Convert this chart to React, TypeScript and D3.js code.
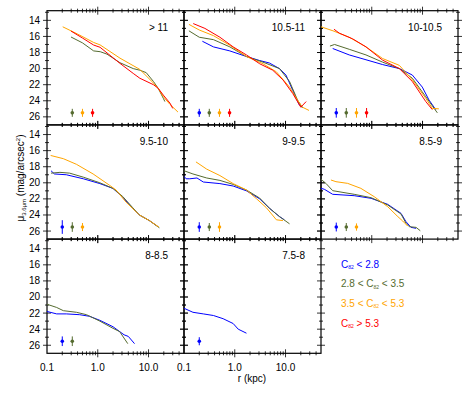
import React, { useEffect, useRef } from 'react';
import * as d3 from 'd3';

type Pt = [number, number];

// mass bins, one panel each
const binLabels = ['> 11', '10.5-11', '10-10.5', '9.5-10', '9-9.5', '8.5-9', '8-8.5', '7.5-8'];
// concentration classes: blue, green, orange, red
const classColors = ['#0000ff', '#556b2f', '#ffa500', '#ff0000'];
const legendLeft = ['C', '2.8 < C', '3.5 < C', 'C'];
const legendRight = [' < 2.8', ' < 3.5', ' < 5.3', ' > 5.3'];
const errorBarR = [0.2, 0.315, 0.5, 0.79];
const errorBarMu = 25.5;
const xTickLabels = ['0.1', '1.0', '10.0'];
const yTickValues = [14, 16, 18, 20, 22, 24, 26];

// profiles: [r (kpc), mu (mag/arcsec^2)], null = no galaxies in that class
const gt11Profiles: (Pt[] | null)[] = [
  null,
  [[0.297, 16.07], [0.5, 16.8], [0.83, 17.8], [1.12, 17.9], [1.52, 18.2], [2.74, 19.27], [5.0, 20.0], [6.75, 20.2], [9, 20.5], [12.5, 21.6], [15.5, 22.45], [19.6, 23.7], [21, 24.1]],
  [[0.204, 14.8], [0.4, 15.7], [0.83, 16.75], [1.11, 17.05], [2.74, 18.7], [6.75, 20.1], [12.5, 21.8], [15.5, 22.45], [19.6, 23.5], [26, 24.4], [38, 25.4]],
  [[0.297, 15.33], [0.5, 16.2], [0.83, 17.07], [1.11, 17.35], [2.74, 19.35], [5.0, 20.6], [6.75, 21.2], [12.5, 22.0], [15.5, 22.45], [19.6, 23.3], [26.5, 24.3], [30, 24.95]],
];
const gt11Errors = [0, 0.5, 0.5, 0.5];

const m105Profiles: (Pt[] | null)[] = [
  [[0.23, 16.6], [0.38, 17.3], [0.8, 17.8], [1.7, 18.5], [3.1, 19.0], [4.8, 19.3], [7.6, 20.0], [10.2, 20.8], [13.9, 22.7], [18.6, 24.5], [21.6, 24.8]],
  [[0.125, 15.3], [0.2, 16.1], [0.38, 16.4], [0.8, 17.3], [1.7, 18.5], [3.6, 19.2], [7.6, 20.0], [12, 21.6], [17.2, 23.9], [21.6, 24.9]],
  [[0.125, 14.5], [0.2, 15.2], [0.38, 15.9], [0.8, 17.1], [1.7, 18.5], [3.6, 19.4], [6.6, 20.4], [12, 22.3], [17.2, 23.9], [21.6, 24.8], [29, 25.2]],
  [[0.152, 14.4], [0.258, 15.0], [0.51, 16.1], [0.93, 17.3], [1.7, 18.3], [3.1, 19.4], [5.6, 20.2], [8.9, 21.4], [13.9, 23.1], [20, 24.8], [25.5, 24.1]],
];
const m105Errors = [0.5, 0.5, 0.5, 0.5];

const m100Profiles: (Pt[] | null)[] = [
  [[0.17, 17.5], [0.36, 18.3], [0.77, 18.9], [1.64, 19.5], [3.5, 20.0], [6.3, 20.8], [9.9, 22.3], [13.4, 23.9], [18.2, 25.1]],
  [[0.15, 17.2], [0.185, 17.0], [0.36, 17.6], [0.77, 18.3], [1.64, 19.2], [3.5, 20.0], [6.3, 21.2], [11.6, 23.5], [19.6, 25.5]],
  [[0.1, 14.8], [0.172, 15.3], [0.36, 16.1], [0.77, 17.3], [1.64, 18.75], [3.5, 19.6], [6.3, 21.4], [11.6, 23.7], [15.6, 24.95], [21, 25.0]],
  [[0.18, 15.1], [0.23, 15.6], [0.42, 16.3], [0.77, 17.3], [1.64, 18.95], [3.5, 20.0], [6.3, 21.6], [11.6, 24.1], [15.6, 25.1]],
];
const m100Errors = [0.6, 0.6, 0.6, 0.6];

const m95Profiles: (Pt[] | null)[] = [
  [[0.12, 18.5], [0.14, 18.9], [0.24, 19.0], [0.52, 19.5], [1.1, 20.1], [2.0, 20.7], [3.1, 21.8], [4.9, 23.2], [6.6, 24.0], [10.4, 24.7], [15, 25.4]],
  [[0.12, 18.8], [0.18, 18.7], [0.28, 18.8], [0.52, 19.3], [1.1, 20.0], [2.0, 20.7], [3.1, 21.7], [4.9, 23.1], [6.6, 24.0], [10.4, 24.7], [16.4, 25.6]],
  [[0.118, 16.6], [0.21, 17.0], [0.38, 17.7], [0.81, 18.9], [1.7, 20.3], [2.3, 20.9], [3.6, 22.4], [6.6, 24.0], [10.4, 24.7], [16, 25.5]],
  null,
];
const m95Errors = [0.85, 0.6, 0.5, 0];

const m90Profiles: (Pt[] | null)[] = [
  [[0.1, 19.2], [0.11, 19.5], [0.13, 19.5], [0.18, 19.4], [0.24, 19.9], [0.51, 20.1], [0.93, 20.4], [1.7, 21.0], [3.1, 22.0], [4.9, 23.2], [7.6, 24.2], [9.5, 24.6]],
  [[0.1, 18.5], [0.15, 18.9], [0.28, 19.4], [0.51, 19.7], [0.93, 20.2], [1.7, 20.9], [3.1, 21.9], [4.9, 23.2], [7.6, 24.2], [12, 25.1]],
  [[0.172, 17.4], [0.28, 18.3], [0.51, 19.1], [0.93, 20.1], [1.7, 20.9], [2.7, 22.0], [4.2, 23.1], [6.6, 24.6], [8.9, 24.7]],
  null,
];
const m90Errors = [0.6, 0.5, 0.6, 0];

const m85Profiles: (Pt[] | null)[] = [
  [[0.1, 20.69], [0.116, 20.8], [0.17, 21.43], [0.45, 21.6], [0.97, 21.93], [2.06, 22.68], [3.77, 23.8], [4.73, 24.84], [5.93, 25.54], [7.44, 25.66]],
  [[0.1, 19.57], [0.125, 20.07], [0.17, 20.98], [0.45, 21.43], [0.97, 21.85], [2.06, 22.76], [3.77, 23.88], [4.73, 25.04], [5.5, 25.46], [7.44, 25.54], [9.04, 25.96]],
  [[0.157, 19.65], [0.197, 19.86], [0.335, 20.07], [0.61, 20.69], [1.12, 21.73], [2.06, 22.97], [3.26, 24.2], [4.07, 24.75], [5.1, 25.38]],
  null,
];
const m85Errors = [0.55, 0.5, 0.45, 0];

const m80Profiles: (Pt[] | null)[] = [
  [[0.1, 21.8], [0.155, 22.1], [0.24, 22.1], [0.44, 22.2], [0.69, 22.4], [1.1, 22.9], [2.0, 23.7], [3.3, 24.7], [4.0, 24.9], [5.3, 25.8]],
  [[0.1, 20.9], [0.155, 21.3], [0.21, 21.7], [0.38, 21.9], [0.6, 22.2], [1.1, 23.0], [2.0, 23.9], [2.7, 24.3], [3.9, 25.8]],
  null,
  null,
];
const m80Errors = [0.6, 0.6, 0, 0];

const m75Profiles: (Pt[] | null)[] = [
  [[0.1, 21.4], [0.15, 21.9], [0.24, 22.1], [0.38, 22.3], [0.59, 22.7], [0.93, 23.3], [1.17, 24.0], [1.7, 24.5]],
  null,
  null,
  null,
];
const m75Errors = [0.5, 0, 0, 0];

const panelProfiles = [gt11Profiles, m105Profiles, m100Profiles, m95Profiles, m90Profiles, m85Profiles, m80Profiles, m75Profiles];
const panelErrors = [gt11Errors, m105Errors, m100Errors, m95Errors, m90Errors, m85Errors, m80Errors, m75Errors];

const W = 472;
const H = 393;
const left0 = 47;
const top0 = 10.7;
const panelW = 137;
const panelH = 114.2;
const font = '"Liberation Sans", Arial, sans-serif';

const drawChart = (el: SVGSVGElement) => {
  const svg = d3.select(el);
  svg.selectAll('*').remove();

  const x = d3.scaleLog().domain([0.1, 50]).range([0, panelW]);
  const y = d3.scaleLinear().domain([12.8, 27]).range([0, panelH]);
  const line = d3.line<Pt>().x((d) => x(d[0])).y((d) => y(d[1]));

  const xMajor = [0.1, 1, 10];
  const xMinor: number[] = [];
  [0.1, 1, 10].forEach((dec) => d3.range(2, 10).forEach((k) => { if (k * dec < 50) xMinor.push(k * dec); }));
  const yMinor = d3.range(13, 27, 1).filter((v) => v % 2 === 1);

  svg.append('defs').append('clipPath').attr('id', 'pclip')
    .append('rect').attr('width', panelW).attr('height', panelH);

  binLabels.forEach((label, i) => {
    const col = i % 3;
    const row = Math.floor(i / 3);
    const g = svg.append('g')
      .attr('transform', `translate(${ left0 + col * panelW }, ${ top0 + row * panelH })`);

    g.append('rect')
      .attr('width', panelW).attr('height', panelH)
      .attr('fill', 'none').attr('stroke', '#000').attr('stroke-width', 1.2);

    const ticks = g.append('g').attr('stroke', '#000').attr('stroke-width', 0.8);
    const tick = (vals: number[], len: number) => {
      vals.forEach((v) => {
        const px = x(v);
        ticks.append('line').attr('x1', px).attr('x2', px).attr('y1', -len).attr('y2', len);
        ticks.append('line').attr('x1', px).attr('x2', px).attr('y1', panelH - len).attr('y2', panelH + len);
      });
    };
    tick(xMajor.slice(1), 4);
    tick(xMinor, 2);
    const ytick = (vals: number[], len: number) => {
      vals.forEach((v) => {
        const py = y(v);
        ticks.append('line').attr('y1', py).attr('y2', py).attr('x1', -len).attr('x2', len);
        ticks.append('line').attr('y1', py).attr('y2', py).attr('x1', panelW - len).attr('x2', panelW + len);
      });
    };
    ytick(yTickValues, 4);
    ytick(yMinor, 2);

    const curves = g.append('g').attr('clip-path', 'url(#pclip)');
    panelProfiles[i].forEach((pts, c) => {
      if (!pts) return;
      curves.append('path')
        .attr('d', line(pts))
        .attr('fill', 'none')
        .attr('stroke', classColors[c])
        .attr('stroke-width', 1);
    });

    panelErrors[i].forEach((err, c) => {
      if (!err) return;
      const px = x(errorBarR[c]);
      g.append('line')
        .attr('x1', px).attr('x2', px)
        .attr('y1', y(errorBarMu - err)).attr('y2', y(errorBarMu + err))
        .attr('stroke', classColors[c]).attr('stroke-width', 1);
      g.append('circle')
        .attr('cx', px).attr('cy', y(errorBarMu)).attr('r', 1.8)
        .attr('fill', classColors[c]);
    });

    g.append('text')
      .attr('x', panelW - 16).attr('y', 20)
      .attr('text-anchor', 'end')
      .attr('font-family', font).attr('font-size', 10)
      .text(label);

    if (col === 0) {
      yTickValues.forEach((v) => {
        g.append('text')
          .attr('x', -7).attr('y', y(v) + 3.5)
          .attr('text-anchor', 'end')
          .attr('font-family', font).attr('font-size', 10)
          .text(v);
      });
    }
    if (row === 2) {
      xMajor.forEach((v, k) => {
        g.append('text')
          .attr('x', x(v)).attr('y', panelH + 17.5)
          .attr('text-anchor', 'middle')
          .attr('font-family', font).attr('font-size', 10)
          .text(xTickLabels[k]);
      });
    }
  });

  // axis titles
  svg.append('text')
    .attr('x', 252).attr('y', 382)
    .attr('text-anchor', 'middle')
    .attr('font-family', font).attr('font-size', 10)
    .text('r (kpc)');

  const yl = svg.append('text')
    .attr('transform', 'translate(24, 178) rotate(-90)')
    .attr('text-anchor', 'middle')
    .attr('font-family', font).attr('font-size', 10);
  yl.append('tspan').text('μ');
  yl.append('tspan').attr('font-size', 6).attr('dy', 2).text('3.6μm');
  yl.append('tspan').attr('dy', -2).text(' (mag/arcsec');
  yl.append('tspan').attr('font-size', 6).attr('dy', -4).text('2');
  yl.append('tspan').attr('dy', 4).text(')');

  // legend
  classColors.forEach((color, c) => {
    const t = svg.append('text')
      .attr('x', 341).attr('y', 267.5 + c * 19.7)
      .attr('fill', color)
      .attr('font-family', font).attr('font-size', 10);
    t.append('tspan').text(legendLeft[c]);
    t.append('tspan').attr('font-size', 5).attr('dy', 1.5).text('82');
    t.append('tspan').attr('dy', -1.5).text(legendRight[c]);
  });
};

const App = () => {
  const ref = useRef<SVGSVGElement>(null);

  useEffect(() => {
    if (ref.current) drawChart(ref.current);
  }, []);

  return (
    <svg
      ref={ ref }
      width={ W }
      height={ H }
      style={ { position: 'absolute', left: 0, top: 0, background: '#fff' } }
    />
  );
};

export default App;
